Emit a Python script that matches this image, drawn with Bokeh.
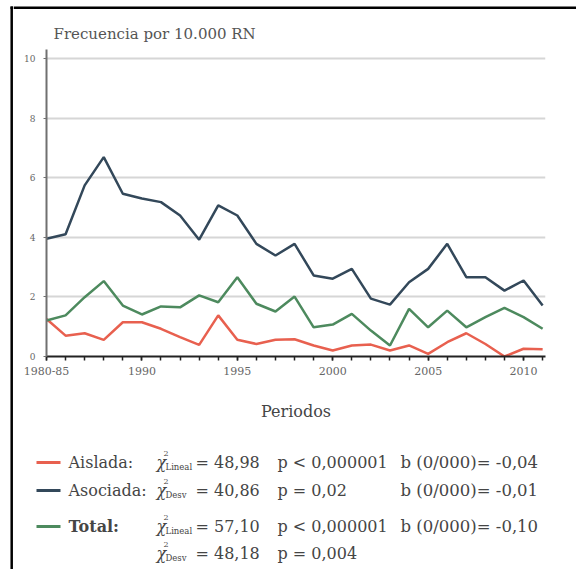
from bokeh.plotting import figure
from bokeh.layouts import row, column
from bokeh.models import Range1d, FixedTicker
from bokeh.core.properties import value
from bokeh.embed import file_html
from bokeh.resources import INLINE

# Periods on the horizontal axis (first one groups 1980-85)
periodos = ["1980-85", "1986", "1987", "1988", "1989", "1990", "1991", "1992", "1993",
            "1994", "1995", "1996", "1997", "1998", "1999", "2000", "2001", "2002",
            "2003", "2004", "2005", "2006", "2007", "2008", "2009", "2010", "2011"]

# Frequency per 10,000 newborns
aislada = [1.26, 0.70, 0.78, 0.56, 1.15, 1.15, 0.93, 0.65, 0.39, 1.38, 0.56, 0.42, 0.56, 0.58,
           0.37, 0.20, 0.37, 0.40, 0.20, 0.37, 0.09, 0.48, 0.78, 0.42, 0.00, 0.26, 0.24]
asociada = [3.95, 4.10, 5.74, 6.69, 5.46, 5.30, 5.18, 4.73, 3.92, 5.07, 4.73, 3.78, 3.39, 3.78,
            2.72, 2.61, 2.94, 1.94, 1.74, 2.49, 2.94, 3.78, 2.66, 2.66, 2.21, 2.55, 1.71]
total = [1.21, 1.38, 1.99, 2.53, 1.71, 1.41, 1.68, 1.65, 2.05, 1.82, 2.66, 1.77, 1.51, 2.01,
         0.98, 1.07, 1.43, 0.87, 0.37, 1.60, 0.98, 1.54, 0.98, 1.32, 1.63, 1.32, 0.93]

x_ticks = [1985, 1990, 1995, 2000, 2005, 2010]
x_tick_labels = {1985: "1980-85"}
y_ticks = [0, 2, 4, 6, 8, 10]

# Legend / statistics rows
serie_nombres = ["Aislada:", "Asociada:", "Total:", ""]
chi_sub = ["Lineal", "Desv", "Lineal", "Desv"]
chi_val = ["= 48,98", "= 40,86", "= 57,10", "= 48,18"]
p_val = ["p < 0,000001", "p = 0,02", "p < 0,000001", "p = 0,004"]
b_val = ["b (0/000)= -0,04", "b (0/000)= -0,01", "b (0/000)= -0,10", ""]

C_AISLADA = "#e8604f"
C_ASOCIADA = "#33485a"
C_TOTAL = "#4d8a5e"
TXT = "#454545"
SERIF = "DejaVu Serif"

# x position of each period: the grouped first period sits on 1985
xs = [1985 if s == "1980-85" else int(s) for s in periodos]

W, H = 576, 569       # overall layout size (kept a little short of the window)
STRIP = 13            # left strip holding the page frame's left edge
HEAD = 45             # header band (frame top edge + title)
LEG_TOP = 440         # where the statistics block starts
FL, FR, FT, FB = 46, 545, 49, 356   # plot frame edges on the page


def blank(width, height, x0, x1, y_top, y_bottom):
    """A decoration-only figure whose data space equals page pixels (y grows downward)."""
    f = figure(width=width, height=height, output_backend="svg", toolbar_location=None,
               x_range=Range1d(x0, x1), y_range=Range1d(y_bottom, y_top),
               min_border=0, frame_align=False)
    f.axis.visible = False
    f.grid.visible = False
    f.outline_line_color = None
    f.background_fill_color = "white"
    f.border_fill_color = "white"
    return f


# left strip: page frame's left edge
left = blank(STRIP, H, 0, STRIP, 0, H)
left.line(x=[11.2, 11.2], y=[6, H], line_color="black", line_width=2.5)
left.line(x=[10, STRIP], y=[7.2, 7.2], line_color="black", line_width=2.5)

# header: top edge and title
head = blank(W - STRIP, HEAD, STRIP, W, 0, HEAD)
head.line(x=[STRIP, W], y=[7.2, 7.2], line_color="black", line_width=2.5)
head.text(x=[53], y=[33], text=["Frecuencia por 10.000 RN"], text_font=value(SERIF),
          text_font_size="15px", text_color="#555555", text_baseline="middle")

# main chart
p = figure(width=W - STRIP, height=LEG_TOP - HEAD, output_backend="svg",
           toolbar_location=None, frame_align=False,
           x_range=Range1d(1985, 2011.15), y_range=Range1d(0, 10.3),
           min_border_left=FL - STRIP, min_border_right=W - FR,
           min_border_top=FT - HEAD, min_border_bottom=LEG_TOP - FB)
p.outline_line_color = None
p.background_fill_color = "white"
p.border_fill_color = "white"

p.xgrid.visible = False
p.ygrid.ticker = FixedTicker(ticks=[2, 4, 6, 8, 10])
p.ygrid.grid_line_color = "#d6d6d6"
p.ygrid.grid_line_width = 2

xa = p.xaxis[0]
xa.ticker = FixedTicker(ticks=x_ticks, minor_ticks=xs)
xa.major_label_overrides = x_tick_labels
xa.axis_line_color = "#222222"
xa.axis_line_width = 2
xa.major_tick_line_color = "#222222"
xa.minor_tick_line_color = "#222222"
xa.major_tick_line_width = 1.5
xa.minor_tick_line_width = 1.5
xa.major_tick_in = 0
xa.major_tick_out = 4
xa.minor_tick_in = 0
xa.minor_tick_out = 4
xa.major_label_text_font = SERIF
xa.major_label_text_font_size = "11px"
xa.major_label_text_color = "#666666"
xa.major_label_standoff = 6
xa.axis_label = "Periodos"
xa.axis_label_text_font = SERIF
xa.axis_label_text_font_style = "normal"
xa.axis_label_text_font_size = "16px"
xa.axis_label_text_color = TXT
xa.axis_label_standoff = 24

ya = p.yaxis[0]
ya.ticker = FixedTicker(ticks=y_ticks)
ya.axis_line_color = "#707070"
ya.axis_line_width = 2
ya.major_tick_line_color = "#707070"
ya.major_tick_in = 0
ya.major_tick_out = 3
ya.minor_tick_line_color = None
ya.major_label_text_font = SERIF
ya.major_label_text_font_size = "9px"
ya.major_label_text_color = "#666666"
ya.major_label_standoff = 8

p.line(xs, aislada, line_color=C_AISLADA, line_width=2.5)
p.line(xs, total, line_color=C_TOTAL, line_width=2.5)
p.line(xs, asociada, line_color=C_ASOCIADA, line_width=2.5)

# statistics block below the chart
leg = blank(W - STRIP, H - LEG_TOP, STRIP, W, LEG_TOP, H)

rows_y = [462, 490, 526, 553]
marker_colors = [C_AISLADA, C_ASOCIADA, C_TOTAL, None]


def txt(x, y, s, size, style="normal"):
    leg.text(x=[x], y=[y], text=[s], text_font=value(SERIF), text_font_size=size,
             text_font_style=style, text_color=TXT, text_baseline="middle")


for i, ry in enumerate(rows_y):
    if marker_colors[i]:
        leg.line(x=[36, 60], y=[ry, ry], line_color=marker_colors[i], line_width=3)
    if serie_nombres[i]:
        txt(68, ry, serie_nombres[i], "16px",
            style="bold" if serie_nombres[i] == "Total:" else "normal")
    txt(156, ry, "χ", "16px", style="italic")
    txt(163, ry - 9, "2", "8px")
    txt(165, ry + 4, chi_sub[i], "8.5px")
    txt(195, ry, chi_val[i], "16px")
    txt(277, ry, p_val[i], "16px")
    if b_val[i]:
        txt(400, ry, b_val[i], "16.5px")

layout = row(left, column(head, p, leg))
open("out.html", "w").write(file_html(layout, INLINE))
